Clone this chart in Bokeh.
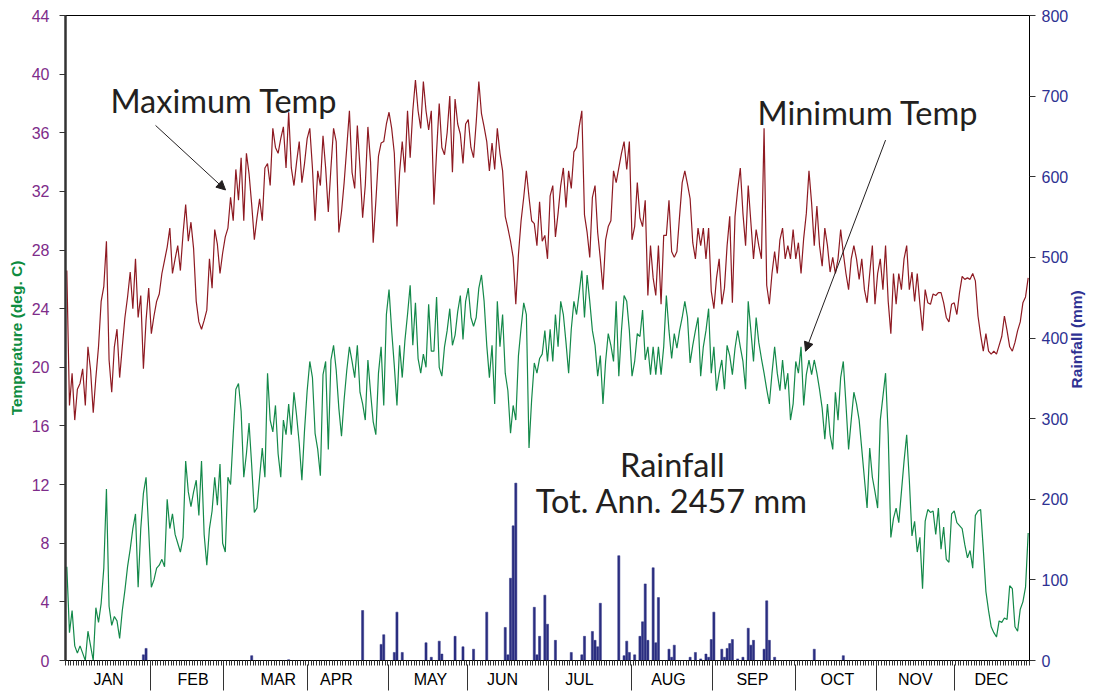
import math
from bokeh.plotting import figure
from bokeh.models import Range1d, LinearAxis, FixedTicker, Label, Arrow, NormalHead
from bokeh.embed import file_html
from bokeh.resources import INLINE

# Daily maximum temperature (deg C), day 1..365
max_temp = [
    26.6, 17.4, 19.6, 16.4, 18.5, 18.9, 19.9, 17.4, 21.4, 19.8,
    16.9, 19.3, 21.4, 24.5, 25.5, 28.6, 20.5, 18.3, 21.4, 22.6,
    19.3, 21.4, 23.4, 24.8, 26.5, 24.0, 27.4, 23.4, 24.9, 19.9,
    23.2, 25.4, 22.3, 23.5, 24.5, 25.0, 26.4, 27.3, 28.2, 29.5,
    26.4, 27.4, 28.3, 26.6, 29.1, 31.1, 28.6, 29.9, 28.1, 24.5,
    23.1, 22.6, 23.2, 23.9, 27.4, 25.4, 29.4, 28.4, 26.4, 27.8,
    28.9, 29.5, 31.6, 30.0, 33.5, 31.4, 34.3, 30.0, 34.6, 33.2,
    31.1, 28.7, 30.2, 31.5, 30.0, 33.6, 33.9, 32.4, 36.3, 35.0,
    34.6, 35.6, 36.4, 33.6, 37.4, 33.6, 32.4, 34.0, 35.4, 32.6,
    33.9, 35.6, 36.3, 33.6, 30.0, 33.4, 32.4, 35.8, 33.6, 30.6,
    33.6, 36.3, 35.4, 29.2, 30.6, 32.6, 35.0, 37.5, 33.3, 32.2,
    36.5, 33.6, 30.2, 32.4, 36.4, 34.0, 28.5, 31.3, 34.4, 35.3,
    35.4, 36.6, 37.4, 36.3, 34.6, 29.6, 33.3, 35.4, 33.3, 37.5,
    34.3, 37.5, 39.6, 37.5, 36.3, 39.5, 37.5, 36.2, 37.5, 31.1,
    34.7, 38.0, 35.0, 34.5, 36.0, 38.5, 33.3, 38.3, 36.6, 35.9,
    33.9, 36.6, 36.9, 35.0, 34.3, 36.7, 39.5, 37.3, 36.4, 35.4,
    33.4, 35.3, 33.5, 36.3, 34.6, 33.4, 30.3, 29.5, 28.6, 27.5,
    24.3, 27.7, 30.0, 31.6, 33.4, 31.6, 30.0, 29.8, 28.3, 31.3,
    28.6, 29.0, 27.4, 31.7, 32.4, 28.9, 30.5, 32.4, 33.6, 30.9,
    33.4, 32.2, 34.7, 35.0, 36.4, 37.5, 30.4, 29.2, 27.5, 31.6,
    32.4, 29.2, 27.4, 25.3, 28.7, 29.6, 30.0, 33.4, 32.6, 33.6,
    34.6, 35.4, 33.5, 35.4, 28.7, 29.6, 32.6, 30.2, 29.6, 31.4,
    24.9, 28.3, 26.1, 24.9, 28.3, 24.3, 29.0, 29.0, 31.4, 27.9,
    27.5, 27.9, 30.3, 32.6, 33.4, 32.5, 31.5, 28.5, 27.4, 29.5,
    28.3, 29.5, 27.4, 29.5, 25.2, 24.0, 26.1, 27.4, 24.3, 25.4,
    28.3, 30.3, 24.4, 30.3, 32.1, 33.6, 30.5, 28.3, 32.4, 29.9,
    27.4, 29.4, 28.3, 27.4, 36.3, 25.6, 24.3, 26.4, 27.9, 26.4,
    28.7, 29.5, 27.4, 28.3, 27.4, 29.4, 27.4, 28.5, 26.4, 28.8,
    30.5, 33.4, 31.2, 28.3, 31.0, 28.3, 26.9, 29.5, 28.3, 26.5,
    27.5, 26.4, 27.4, 29.4, 27.8, 26.4, 25.3, 27.4, 28.3, 27.4,
    26.0, 27.4, 25.3, 24.4, 26.4, 28.3, 24.3, 26.4, 27.4, 25.3,
    28.3, 24.5, 22.3, 26.4, 24.3, 26.4, 25.3, 27.4, 28.3, 25.3,
    26.5, 24.5, 26.4, 24.3, 22.5, 25.3, 24.4, 24.3, 25.0, 24.9,
    25.1, 25.1, 24.4, 23.4, 23.1, 24.3, 24.4, 23.6, 25.1, 26.2,
    26.0, 26.1, 26.0, 26.4, 25.9, 23.5, 22.2, 21.1, 22.3, 21.1,
    20.9, 21.1, 20.9, 21.5, 22.1, 23.5, 22.5, 21.4, 21.1, 21.7,
    22.5, 23.1, 24.4, 24.8, 26.1,
]

# Daily minimum temperature (deg C), day 1..365
min_temp = [
    6.4, 1.9, 3.4, 1.0, 0.5, 1.0, 0.5, 0.0, 2.0, 1.0,
    0.0, 3.6, 2.6, 3.9, 6.3, 11.7, 3.7, 2.4, 3.0, 2.7,
    1.5, 3.4, 4.8, 6.4, 7.6, 9.0, 10.0, 5.0, 9.0, 11.4,
    12.5, 8.9, 5.0, 5.5, 6.3, 6.5, 6.9, 6.4, 11.0, 9.0,
    10.0, 8.6, 8.0, 7.4, 8.4, 13.6, 11.5, 10.5, 11.5, 12.3,
    9.9, 13.6, 8.6, 6.5, 9.0, 10.2, 12.5, 10.6, 13.4, 8.0,
    7.4, 12.5, 12.0, 15.4, 18.5, 18.9, 17.0, 12.5, 14.1, 16.2,
    13.3, 10.1, 10.4, 12.5, 14.5, 12.5, 19.6, 16.4, 15.6, 17.4,
    14.1, 12.5, 16.4, 15.4, 17.5, 15.4, 18.3, 16.7, 14.8, 12.3,
    15.7, 18.4, 20.4, 19.3, 15.5, 14.4, 12.6, 19.5, 20.4, 14.4,
    20.5, 21.5, 19.8, 17.2, 15.3, 17.8, 19.8, 21.4, 20.4, 19.3,
    21.5, 18.3, 17.5, 16.4, 20.5, 18.3, 16.3, 15.4, 19.6, 21.4,
    17.4, 23.6, 25.3, 22.5, 20.1, 17.4, 21.5, 19.3, 21.8, 23.6,
    25.6, 21.5, 24.4, 20.6, 19.6, 20.9, 20.0, 24.3, 21.1, 21.1,
    24.8, 20.0, 19.4, 21.4, 22.5, 24.0, 21.5, 22.2, 23.8, 24.9,
    21.9, 24.5, 25.4, 23.4, 22.8, 23.4, 25.4, 26.3, 24.5, 21.5,
    19.3, 21.5, 17.5, 24.5, 21.4, 23.6, 19.6, 18.4, 15.5, 17.4,
    16.4, 20.8, 22.7, 24.4, 23.6, 14.5, 17.8, 20.3, 19.6, 20.6,
    20.9, 22.5, 20.4, 22.6, 20.4, 23.6, 21.4, 24.5, 23.6, 21.7,
    19.6, 22.6, 24.5, 23.6, 25.1, 26.6, 23.4, 26.3, 24.5, 22.5,
    21.5, 19.4, 20.8, 17.5, 20.4, 22.3, 21.5, 20.4, 24.5, 19.4,
    22.5, 24.9, 24.5, 22.5, 19.4, 20.4, 22.3, 22.1, 23.9, 20.5,
    21.4, 19.5, 21.4, 19.5, 21.4, 19.5, 21.4, 24.9, 22.5, 20.6,
    22.3, 21.3, 22.5, 23.4, 24.5, 23.4, 20.3, 21.5, 22.5, 23.4,
    19.4, 21.4, 22.5, 24.0, 19.6, 21.4, 18.4, 19.6, 20.5, 18.5,
    21.5, 20.8, 19.5, 21.3, 22.5, 21.4, 20.4, 18.5, 24.5, 22.5,
    20.4, 23.4, 21.7, 20.6, 19.6, 18.5, 17.5, 19.6, 21.4, 19.6,
    18.4, 20.5, 18.5, 19.6, 16.4, 17.5, 20.4, 19.6, 21.4, 17.4,
    19.5, 20.5, 19.5, 20.5, 19.6, 18.5, 17.2, 15.1, 17.5, 15.4,
    14.4, 18.3, 16.4, 19.3, 20.4, 17.5, 14.4, 16.4, 18.3, 17.5,
    16.4, 14.4, 12.4, 10.4, 14.5, 12.5, 11.5, 10.4, 16.4, 18.0,
    19.6, 15.4, 8.4, 9.7, 10.4, 9.4, 11.5, 13.6, 15.4, 12.3,
    8.5, 9.5, 7.4, 8.4, 4.9, 9.5, 10.3, 10.1, 10.2, 8.6,
    10.4, 7.6, 9.1, 6.9, 6.7, 10.0, 10.2, 9.4, 9.2, 9.0,
    7.9, 7.0, 7.5, 6.3, 9.9, 10.2, 10.3, 7.6, 4.7, 3.4,
    2.3, 1.9, 1.6, 2.7, 2.6, 2.9, 2.8, 5.1, 4.9, 2.3,
    2.0, 3.5, 4.0, 5.0, 8.7,
]

# Daily rainfall (mm) on rainy days
rain_day = [30, 31, 71, 85, 113, 120, 121, 125, 126, 128, 137, 139, 142, 143,
            148, 151, 155, 160, 167, 168, 169, 170, 171, 178, 179, 180, 182,
            183, 186, 192, 196, 197, 200, 201, 202, 203, 210, 212, 213, 214,
            216, 218, 219, 220, 221, 223, 224, 225, 229, 230, 231, 237, 239,
            241, 243, 244, 245, 246, 249, 250, 251, 252, 253, 255, 257, 259,
            260, 261, 265, 266, 267, 269, 284, 295]
rain_mm = [7, 15, 6, 1, 62, 20, 32, 10, 60, 10, 22, 4, 24, 8,
           30, 17, 14, 60, 41, 7, 102, 167, 220, 66, 7, 30, 81,
           45, 25, 10, 7, 30, 36, 25, 17, 71, 130, 6, 24, 10,
           7, 30, 48, 95, 25, 115, 22, 78, 14, 4, 19, 4, 10,
           2, 8, 4, 26, 60, 14, 4, 15, 21, 26, 2, 4, 40,
           19, 25, 14, 74, 25, 4, 14, 6]

months = ["JAN", "FEB", "MAR", "APR", "MAY", "JUN",
          "JUL", "AUG", "SEP", "OCT", "NOV", "DEC"]
month_label_day = [16.3, 48.3, 80.6, 102.6, 138.2, 165.5,
                   194.6, 228.3, 260.1, 292.3, 321.8, 350.6]
month_edges = [32.2, 59.8, 91.6, 122.3, 152.2, 182.7,
               214.3, 245.0, 276.4, 307.1, 336.6]
temp_ticks = [0, 4, 8, 12, 16, 20, 24, 28, 32, 36, 40, 44]
rain_ticks = [0, 100, 200, 300, 400, 500, 600, 700, 800]
rain_title = "Rainfall (mm)"
rain_title_at = 337.5  # where the rotated title starts, in rainfall units

days = [i + 0.5 for i in range(len(max_temp))]
rain_x = [d - 0.5 for d in rain_day]

MAXC = "#8E1A22"
MINC = "#14894A"
RAINC = "#2B2E80"
PURPLE = "#7E2C8A"
NAVY = "#2E3192"
GREEN = "#0E8C3F"
TXT = "#231F20"

p = figure(width=1098, height=694, x_range=Range1d(0, 365), y_range=Range1d(0, 44),
           output_backend="svg", toolbar_location=None,
           min_border_left=65, min_border_right=69, min_border_top=15, min_border_bottom=34)
p.extra_y_ranges = {"rain": Range1d(0, 800)}
p.grid.visible = False
p.outline_line_color = "black"
p.outline_line_width = 1

# bottom axis: month names + daily ticks
xa = p.xaxis[0]
xa.ticker = FixedTicker(ticks=month_label_day, minor_ticks=list(range(0, 366)))
xa.major_label_overrides = {d: m for d, m in zip(month_label_day, months)}
xa.major_label_text_font = "Liberation Sans"
xa.major_label_text_font_size = "16px"
xa.major_label_text_color = "black"
xa.major_label_standoff = 5
xa.major_tick_out = 0
xa.major_tick_in = 0
xa.major_tick_line_color = None
xa.minor_tick_out = 5
xa.minor_tick_in = 0
xa.minor_tick_line_color = "#333333"
xa.axis_line_color = "black"

# second bottom axis: month separators drawn upward
sep = LinearAxis(ticker=FixedTicker(ticks=month_edges, minor_ticks=[]))
sep.major_label_overrides = {e: "" for e in month_edges}
sep.major_label_text_font_size = "1px"
sep.major_label_standoff = 0
sep.axis_line_color = None
sep.major_tick_in = 26
sep.major_tick_out = 0
sep.major_tick_line_color = "#333333"
sep.minor_tick_line_color = None
p.add_layout(sep, "below")

# left axis
ya = p.yaxis[0]
ya.ticker = FixedTicker(ticks=temp_ticks)
ya.major_label_text_color = PURPLE
ya.major_label_text_font = "Liberation Sans"
ya.major_label_text_font_size = "16px"
ya.major_label_standoff = 10
ya.major_tick_out = 6
ya.major_tick_in = 0
ya.minor_tick_line_color = None
ya.axis_line_width = 2.5
ya.axis_line_color = "#333333"
ya.major_tick_line_color = "#333333"
ya.axis_label = "Temperature (deg. C)"
ya.axis_label_text_color = GREEN
ya.axis_label_text_font = "Liberation Sans"
ya.axis_label_text_font_style = "bold"
ya.axis_label_text_font_size = "15.5px"
ya.axis_label_standoff = 4

# right axis: rainfall ticks and labels
ra = LinearAxis(y_range_name="rain", ticker=FixedTicker(ticks=rain_ticks))
ra.major_label_text_color = NAVY
ra.major_label_text_font = "Liberation Sans"
ra.major_label_text_font_size = "16px"
ra.major_label_standoff = 6
ra.major_tick_out = 6
ra.major_tick_in = 0
ra.minor_tick_line_color = None
ra.axis_line_color = "black"
ra.major_tick_line_color = "#333333"
p.add_layout(ra, "right")

# outer right axis carrying only the title, rotated to read bottom-to-top
rt = LinearAxis(y_range_name="rain", ticker=FixedTicker(ticks=[rain_title_at], minor_ticks=[]))
rt.major_label_overrides = {rain_title_at: rain_title}
rt.major_label_orientation = math.pi / 2
rt.major_label_text_color = NAVY
rt.major_label_text_font = "Liberation Sans"
rt.major_label_text_font_style = "bold"
rt.major_label_text_font_size = "15.5px"
rt.major_label_standoff = 5
rt.axis_line_color = None
rt.major_tick_line_color = None
rt.major_tick_out = 0
rt.major_tick_in = 0
rt.minor_tick_line_color = None
p.add_layout(rt, "right")

p.vbar(x=rain_x, top=rain_mm, width=0.8, y_range_name="rain",
       fill_color=RAINC, line_color=RAINC, line_width=0.5)
p.line(days, max_temp, line_color=MAXC, line_width=1.2)
p.line(days, min_temp, line_color=MINC, line_width=1.2)

big = dict(text_font="Lato", text_font_size="32.5px", text_color=TXT)
p.add_layout(Label(x=17.0, y=38.2, text="Maximum Temp", text_align="left",
                   text_baseline="alphabetic", **big))
p.add_layout(Label(x=262.0, y=37.4, text="Minimum Temp", text_align="left",
                   text_baseline="alphabetic", **big))
p.add_layout(Label(x=229.8, y=13.4, text="Rainfall", text_align="center",
                   text_baseline="alphabetic", **big))
p.add_layout(Label(x=229.6, y=10.9, text="Tot. Ann. 2457 mm", text_align="center",
                   text_baseline="alphabetic", **big))

p.add_layout(Arrow(x_start=34.1, y_start=36.5, x_end=60.6, y_end=32.1,
                   line_color=TXT, line_width=1,
                   end=NormalHead(size=9, fill_color=TXT, line_color=TXT)))
p.add_layout(Arrow(x_start=310.5, y_start=35.5, x_end=280.2, y_end=21.1,
                   line_color=TXT, line_width=1,
                   end=NormalHead(size=9, fill_color=TXT, line_color=TXT)))

open("out.html", "w").write(file_html(p, INLINE))
